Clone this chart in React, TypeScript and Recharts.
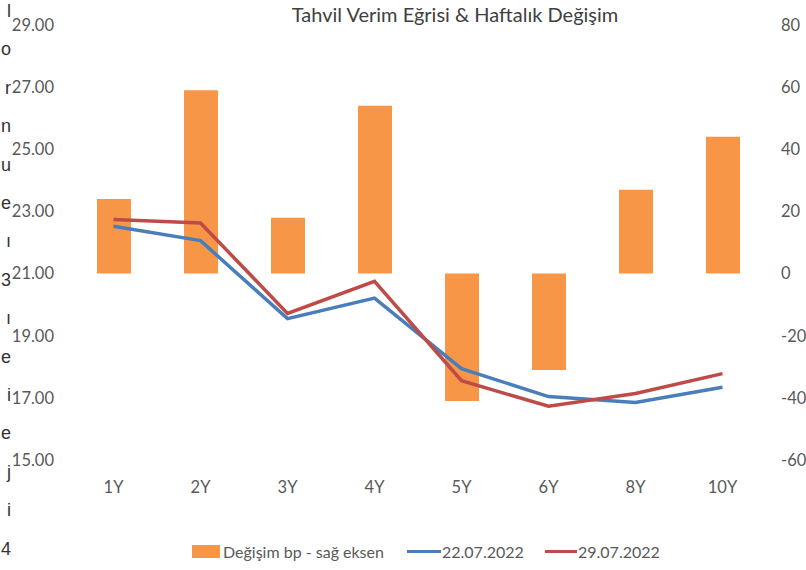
import { ComposedChart, Bar, Line, XAxis, YAxis } from 'recharts';

const tenors = ['1Y', '2Y', '3Y', '4Y', '5Y', '6Y', '8Y', '10Y'];
const changeBp = [24, 59, 18, 54, -41, -31, 27, 44];
const yield2207 = [22.52, 22.06, 19.55, 20.21, 17.94, 17.04, 16.85, 17.34];
const yield2907 = [22.74, 22.63, 19.72, 20.75, 17.55, 16.73, 17.14, 17.78];

const leftTicks = [15, 17, 19, 21, 23, 25, 27, 29];
const rightTicks = [-60, -40, -20, 0, 20, 40, 60, 80];

// cut-off letters from neighbouring text at the very left edge of the image
const edgeChars = ['l', 'o', 'r', 'n', 'u', 'e', 'ı', '3', 'ı', 'e', 'i', 'e', 'j', 'i', '4'];

const data = tenors.map((tenor, i) => ({
  tenor,
  change: changeBp[i],
  y2207: yield2207[i],
  y2907: yield2907[i],
}));

const FONT = 'Lato, sans-serif';
const TEXT = '#595959';
const ORANGE = '#F79646';
const BLUE = '#4A7EBB';
const RED = '#BE4B48';

const tickStyle = { fontSize: 16.5, fill: TEXT, fontFamily: FONT };

export default function App() {
  return (
    <div style={{
      position: 'absolute', left: 0, top: 0, width: 806, height: 570,
      overflow: 'hidden', background: '#fff', fontFamily: FONT,
    }}>
      <div style={{
        position: 'absolute', left: 0, top: -8, width: 11, textAlign: 'right',
        fontFamily: 'Liberation Sans, Arial, sans-serif', fontSize: 18, lineHeight: '38.4px', color: '#333',
      }}>
        {edgeChars.map((c, i) => <div key={i}>{c}</div>)}
      </div>

      <div style={{
        position: 'absolute', left: 205, top: 2, width: 500, textAlign: 'center',
        fontSize: 20, color: '#404040',
      }}>
        Tahvil Verim Eğrisi &amp; Haftalık Değişim
      </div>

      <ComposedChart
        width={806}
        height={570}
        data={data}
        margin={{ top: 25, right: 0, bottom: 80, left: 0 }}
        barCategoryGap="61%"
      >
        <XAxis
          dataKey="tenor"
          axisLine={false}
          tickLine={false}
          tickSize={0}
          tickMargin={21}
          height={30}
          tick={tickStyle}
        />
        <YAxis
          yAxisId="left"
          orientation="left"
          domain={[15, 29]}
          ticks={leftTicks}
          width={70}
          axisLine={false}
          tickLine={false}
          tickSize={0}
          tickMargin={16}
          tick={tickStyle}
          tickFormatter={(v: number) => v.toFixed(2)}
        />
        <YAxis
          yAxisId="right"
          orientation="right"
          domain={[-60, 80]}
          ticks={rightTicks}
          width={40}
          axisLine={false}
          tickLine={false}
          tickSize={0}
          tickMargin={15}
          tick={{ ...tickStyle, textAnchor: 'start' }}
        />
        <Bar yAxisId="right" dataKey="change" fill={ORANGE} barSize={34} isAnimationActive={false} />
        <Line yAxisId="left" dataKey="y2207" stroke={BLUE} strokeWidth={3.5} dot={false} isAnimationActive={false} />
        <Line yAxisId="left" dataKey="y2907" stroke={RED} strokeWidth={3.5} dot={false} isAnimationActive={false} />
      </ComposedChart>

      <div style={{ position: 'absolute', top: 542, left: 0, width: 806, height: 22, fontSize: 16, color: TEXT }}>
        <div style={{ position: 'absolute', left: 192, top: 0, display: 'flex', alignItems: 'center', gap: 3 }}>
          <span style={{ display: 'inline-block', width: 28, height: 13, background: ORANGE }} />
          <span>Değişim bp - sağ eksen</span>
        </div>
        <div style={{ position: 'absolute', left: 407, top: 0, display: 'flex', alignItems: 'center', gap: 1 }}>
          <span style={{ display: 'inline-block', width: 34, height: 3, background: BLUE }} />
          <span>22.07.2022</span>
        </div>
        <div style={{ position: 'absolute', left: 545, top: 0, display: 'flex', alignItems: 'center', gap: 1 }}>
          <span style={{ display: 'inline-block', width: 32, height: 3, background: RED }} />
          <span>29.07.2022</span>
        </div>
      </div>
    </div>
  );
}
